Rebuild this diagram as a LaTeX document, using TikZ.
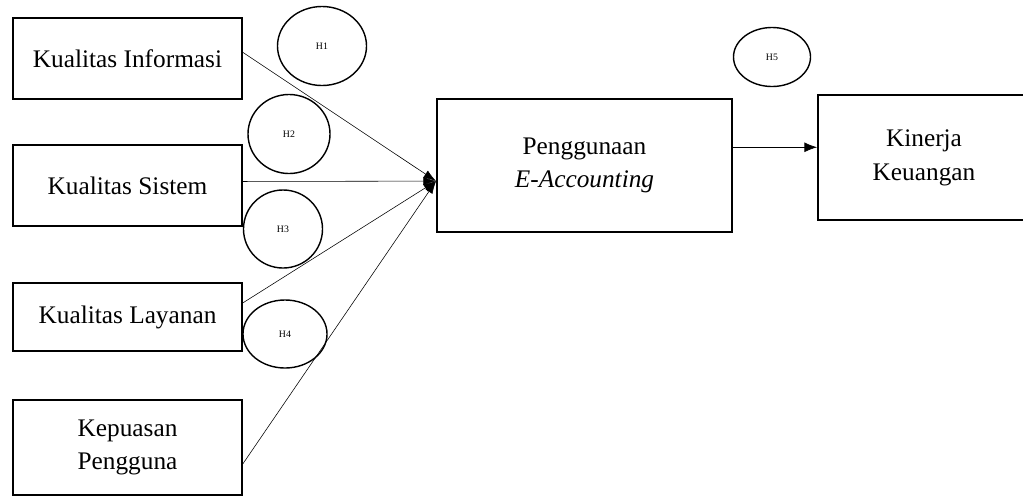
\documentclass[tikz,border=0pt]{standalone}
\usepackage{fontspec}
\setmainfont{Liberation Serif}
\usetikzlibrary{shapes.geometric,arrows.meta}

\tikzset{
  varbox/.style={draw,line width=1.3pt,align=center,inner sep=0pt,font=\fontsize{18}{24}\selectfont},
  hypo/.style={draw,ellipse,line width=1pt,inner sep=0pt,font=\fontsize{7}{8}\selectfont},
  path/.style={line width=0.4pt,-{Latex[length=9pt,width=6pt]}}
}

\begin{document}
\begin{tikzpicture}[x=0.025cm,y=-0.025cm]
\useasboundingbox (0,0) rectangle (1023,495);
\node[varbox,minimum width=5.725cm,minimum height=2.025cm] (ki) at (127.5,58.5) {Kualitas Informasi};
\node[varbox,minimum width=5.725cm,minimum height=2.025cm] (ks) at (127.5,185.5) {Kualitas Sistem};
\node[varbox,minimum width=5.725cm,minimum height=1.7cm] (kl) at (127.5,317) {Kualitas Layanan};
\node[varbox,minimum width=5.725cm,minimum height=2.375cm] (kp) at (127.5,447.5) {Kepuasan\\Pengguna};
\node[varbox,minimum width=7.375cm,minimum height=3.325cm] (pe) at (584.5,165.5) {Penggunaan\\\textit{E-Accounting}};
\node[varbox,minimum width=5.3cm,minimum height=3.125cm] (kk) at (924,157.5) {Kinerja\\Keuangan};

\node[hypo,minimum width=2.225cm,minimum height=1.975cm] (h1) at (322,46) {H1};
\node[hypo,minimum width=2.05cm,minimum height=1.975cm] (h2) at (289,134) {H2};
\node[hypo,minimum width=1.975cm,minimum height=1.95cm] (h3) at (283,229) {H3};
\node[hypo,minimum width=2.1cm,minimum height=1.7cm] (h4) at (285,334) {H4};
\node[hypo,minimum width=1.925cm,minimum height=1.475cm] (h5) at (772,57) {H5};

\draw[path] (ki.3) -- (pe.186);
\draw[path] (ks.2) -- (pe.186);
\draw[path] (kl.7) -- (pe.186);
\draw[path] (kp.-8) -- (pe.186);
\draw[path,line width=0.5pt,-{Latex[length=9pt,width=7pt]}] (pe.7) -- (pe.7 -| kk.west);
\end{tikzpicture}
\end{document}
